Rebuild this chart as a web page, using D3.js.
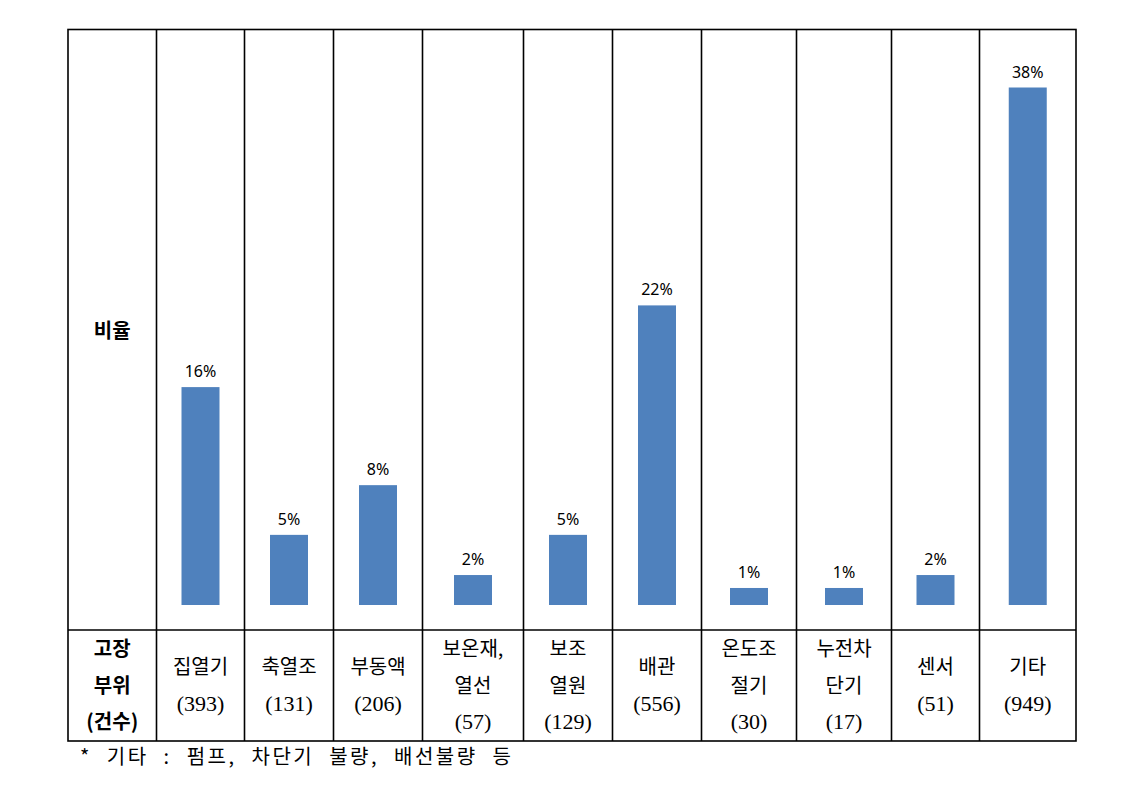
<!DOCTYPE html>
<html><head><meta charset="utf-8">
<script src="https://cdn.jsdelivr.net/npm/d3@7"></script>
<style>body{margin:0;background:#fff}svg{display:block}</style>
</head><body>
<svg id="c" width="1140" height="787"></svg>
<script>
// ---- data ----
const categories = ["집열기", "축열조", "부동액", "보온재,\n열선", "보조\n열원", "배관", "온도조\n절기", "누전차\n단기", "센서", "기타"];
const counts = [393, 131, 206, 57, 129, 556, 30, 17, 51, 949];
const ratioValues = [16, 5.15, 8.8, 2.2, 5.15, 22, 1.25, 1.25, 2.2, 38];   // bar heights (%)
const ratioLabels = ["16%", "5%", "8%", "2%", "5%", "22%", "1%", "1%", "2%", "38%"];
const rowHeaderTop = "비율";
const rowHeaderBottom = ["고장", "부위", "(건수)"];
const footnote = "* 기타 : 펌프, 차단기 불량, 배선불량 등";

// ---- layout ----
const colEdges = [68, 156.5, 244.5, 333.5, 422.5, 523.5, 612.5, 701.5, 796.5, 891.5, 979.5, 1076];
const tblTop = 29.5, tblMid = 630, tblBottom = 741, baseY = 605;
const svg = d3.select("#c");

const x = d3.scaleOrdinal()
  .domain(categories)
  .range(categories.map((c, i) => (colEdges[i + 1] + colEdges[i + 2]) / 2));
const y = d3.scaleLinear().domain([0, 38]).range([baseY, 87.5]);
const barW = 38;

// bars
svg.append("g").selectAll("rect").data(categories).join("rect")
  .attr("x", d => x(d) - barW / 2)
  .attr("width", barW)
  .attr("y", (d, i) => y(ratioValues[i]))
  .attr("height", (d, i) => y(0) - y(ratioValues[i]))
  .attr("fill", "#4F81BD");

// value labels
svg.append("g").selectAll("text").data(categories).join("text")
  .attr("x", d => x(d))
  .attr("y", (d, i) => y(ratioValues[i]) - 10)
  .attr("text-anchor", "middle")
  .attr("font-family", "'Noto Sans', sans-serif")
  .attr("font-size", 16)
  .attr("fill", "#000")
  .text((d, i) => ratioLabels[i]);

// grid lines
const g = svg.append("g").attr("stroke", "#000").attr("stroke-width", 1.6).attr("fill", "none");
g.append("rect").attr("x", colEdges[0]).attr("y", tblTop).attr("width", colEdges[colEdges.length - 1] - colEdges[0]).attr("height", tblBottom - tblTop);
colEdges.slice(1, -1).forEach(e => g.append("line").attr("x1", e).attr("x2", e).attr("y1", tblTop).attr("y2", tblBottom));
g.append("line").attr("x1", colEdges[0]).attr("x2", colEdges[colEdges.length - 1]).attr("y1", tblMid).attr("y2", tblMid);

// row headers
const hx = (colEdges[0] + colEdges[1]) / 2;
svg.append("text").attr("x", hx).attr("y", 338).attr("text-anchor", "middle")
  .attr("font-family", "'Noto Sans CJK KR', sans-serif").attr("font-weight", "bold").attr("font-size", 20)
  .text(rowHeaderTop);

const lineH = 36.5, midY = (tblMid + tblBottom) / 2;
function drawLines(cx, lines, bold) {
  const n = lines.length;
  lines.forEach((t, k) => {
    const isNum = /^\(\d+\)$/.test(t);
    svg.append("text")
      .attr("x", cx)
      .attr("y", midY + (k - (n - 1) / 2) * lineH + 7)
      .attr("text-anchor", "middle")
      .attr("font-family", isNum && !bold ? "'Liberation Serif', serif" : "'Noto Sans CJK KR', sans-serif")
      .attr("font-weight", bold ? "bold" : "normal")
      .attr("font-size", isNum && !bold ? 22 : 20)
      .attr("fill", "#000")
      .text(t);
  });
}
drawLines(hx, rowHeaderBottom, true);
categories.forEach((c, i) => {
  drawLines(x(c), c.split("\n").concat([`(${counts[i]})`]), false);
});

// footnote
svg.append("text").attr("x", 80).attr("y", 764)
  .attr("font-family", "'Noto Sans CJK KR', sans-serif").attr("font-size", 20)
  .attr("letter-spacing", 2.5)
  .attr("word-spacing", 8)
  .attr("xml:space", "preserve")
  .text(footnote);
</script>
</body></html>
